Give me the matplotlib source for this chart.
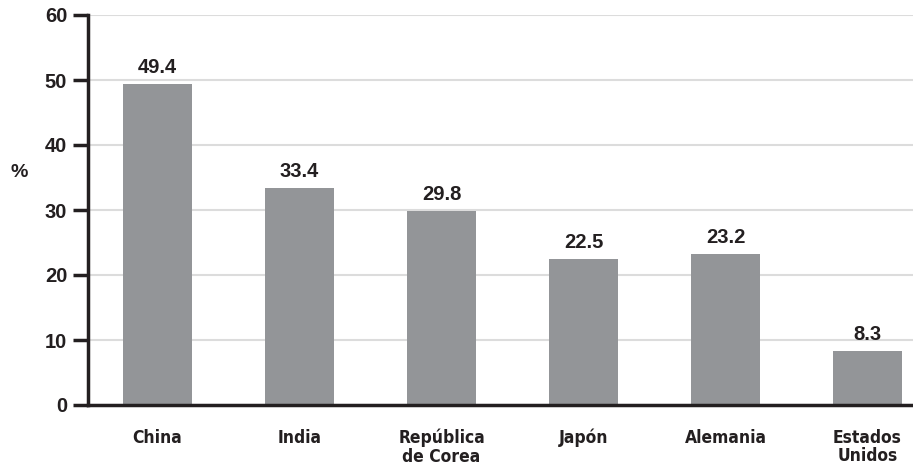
import matplotlib.pyplot as plt
import numpy as np

# Share of each country, in percent
countries = ["China", "India", "República\nde Corea", "Japón", "Alemania", "Estados\nUnidos"]
values = [49.4, 33.4, 29.8, 22.5, 23.2, 8.3]
yticks = [0, 10, 20, 30, 40, 50, 60]

plt.rcParams['font.family'] = ["Liberation Sans", "DejaVu Sans"]
ink = "#231f20"

fig = plt.figure(figsize=(9.13, 4.71), dpi=100)
ax = fig.add_axes([88 / 913, 66 / 471, 1 - 88 / 913, 390 / 471])

x = np.arange(len(countries))
ax.bar(x, values, width=0.49, color="#939598", zorder=2)

for xi, v in zip(x, values):
    ax.text(xi, v + 1.1, f"{v:.1f}", ha="center", va="bottom",
            fontsize=14.5, fontweight="bold", color=ink)

ax.set_xlim(-0.49, 5.32)
ax.set_ylim(0, 60)
ax.set_yticks(yticks)
ax.set_yticklabels([str(t) for t in yticks], fontsize=14.5, fontweight="bold", color=ink)
ax.yaxis.grid(True, color="#dcdcdc", linewidth=1.5, zorder=0)
ax.set_axisbelow(True)

ax.set_xticks(x)
ax.set_xticklabels(countries, family="DejaVu Sans", fontstretch="condensed",
                   fontsize=12.5, fontweight="bold", color=ink,
                   linespacing=1.05, va="top")
ax.tick_params(axis="x", length=0, pad=17)
ax.tick_params(axis="y", length=11, width=2.5, color=ink, pad=4)

for side in ["top", "right"]:
    ax.spines[side].set_visible(False)
for side in ["left", "bottom"]:
    ax.spines[side].set_linewidth(2.5)
    ax.spines[side].set_color(ink)

fig.text(10 / 913, 1 - 173 / 471, "%", fontsize=14, fontweight="bold",
         color=ink, ha="left", va="center")

fig.savefig("out.png", dpi=100)
